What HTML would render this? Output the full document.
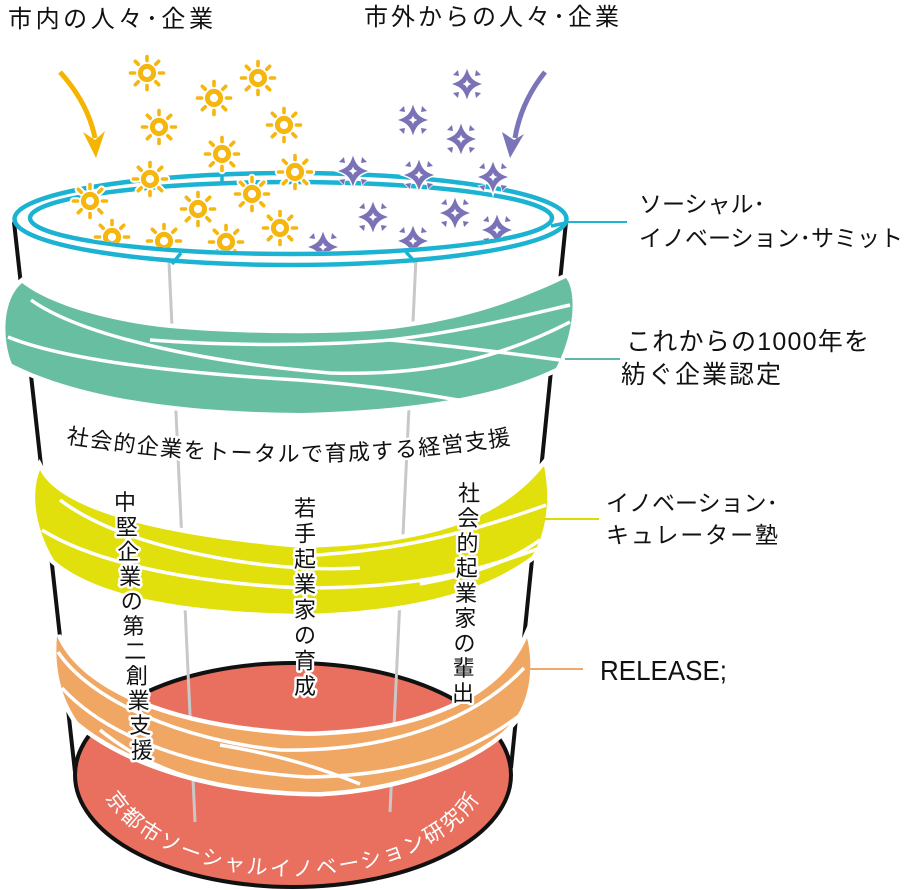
<!DOCTYPE html>
<html>
<head>
<meta charset="utf-8">
<style>
html,body{margin:0;padding:0;background:#fff;}
svg{display:block;}
</style>
</head>
<body>
<svg width="904" height="890" viewBox="0 0 904 890" xmlns="http://www.w3.org/2000/svg" font-family="'Liberation Sans','Noto Sans CJK JP',sans-serif">
<defs>
  <clipPath id="open">
    <rect x="0" y="0" width="904" height="218"/>
    <ellipse cx="291" cy="218" rx="258.5" ry="33.5"/>
  </clipPath>
  <g id="sunH" stroke="#fff" stroke-linecap="round">
    <circle r="7" fill="#fff" stroke-width="7"/>
    <path stroke-width="7.5" d="M0 -12.5V-16.5 M0 12.5V16.5 M-12.5 0H-16.5 M12.5 0H16.5 M8.8 8.8L11.7 11.7 M-8.8 8.8L-11.7 11.7 M8.8 -8.8L11.7 -11.7 M-8.8 -8.8L-11.7 -11.7"/>
  </g>
  <g id="sun">
    <circle r="6.6" fill="#fff" stroke="#f5b60f" stroke-width="5"/>
    <path stroke="#f5b60f" stroke-width="3.6" stroke-linecap="round" d="M0 -12.5V-16.5 M0 12.5V16.5 M-12.5 0H-16.5 M12.5 0H16.5 M8.8 8.8L11.7 11.7 M-8.8 8.8L-11.7 11.7 M8.8 -8.8L11.7 -11.7 M-8.8 -8.8L-11.7 -11.7"/>
  </g>
  <g id="star">
    <path d="M0 -15.5 C3 -6 6 -3 15 0 C6 3 3 6 0 15.5 C-3 6 -6 3 -15 0 C-6 -3 -3 -6 0 -15.5Z" fill="#7a72b6" stroke="#fff" stroke-width="3" paint-order="stroke"/>
    <path d="M0 -4.5 Q0.8 -0.8 4.5 0 Q0.8 0.8 0 4.5 Q-0.8 0.8 -4.5 0 Q-0.8 -0.8 0 -4.5Z" fill="#fff"/>
    <path d="M8 -8 L14 -9 L9 -14Z M-8 -8 L-14 -9 L-9 -14Z M8 8 L14 9 L9 14Z M-8 8 L-14 9 L-9 14Z" fill="#7a72b6" stroke="#fff" stroke-width="1.5" paint-order="stroke"/>
  </g>
  <path id="arcTxt" d="M66 443 Q292 480 518 443"/>
  <path id="redTxt" d="M95 760 A198 116 0 0 0 491 760"/>
</defs>

<rect width="904" height="890" fill="#fff"/>

<!-- bottom red ellipse -->
<ellipse cx="293" cy="775" rx="218" ry="112" fill="#e96f5f" stroke="#111" stroke-width="4"/>

<!-- cup sides -->
<line x1="14" y1="222" x2="75" y2="772" stroke="#111" stroke-width="4"/>
<line x1="566" y1="222" x2="511" y2="768" stroke="#111" stroke-width="4"/>

<!-- poles -->
<line x1="169" y1="262" x2="195" y2="822" stroke="#c8c8c8" stroke-width="3"/>
<line x1="416" y1="258" x2="390" y2="812" stroke="#c8c8c8" stroke-width="3"/>

<!-- rim -->
<ellipse cx="290.5" cy="219" rx="276" ry="46" fill="none" stroke="#1bb3d1" stroke-width="4.5"/>
<ellipse cx="291" cy="218" rx="261" ry="36" fill="none" stroke="#1bb3d1" stroke-width="4.5"/>
<g stroke="#1bb3d1" stroke-width="3.5">
  <line x1="181" y1="253" x2="172" y2="264"/>
  <line x1="406" y1="252" x2="415" y2="262"/>
  <line x1="222" y1="173" x2="222" y2="183"/>
  <line x1="551" y1="226" x2="566" y2="223"/>
</g>
<line x1="566" y1="222" x2="627" y2="222" stroke="#1db4cf" stroke-width="2"/>

<!-- teal band -->
<path d="M22 283 C50 305 110 322 170 328 C250 335 350 335 400 328 C470 318 520 300 566 278 C576 290 576 330 556 368 C500 395 420 410 300 413 C180 412 80 398 12 364 C2 340 2 300 22 283 Z" fill="#68bea0" stroke="#fff" stroke-width="9" paint-order="stroke"/>
<g fill="none" stroke="#fff" stroke-width="3.5">
  <path d="M31 300 C80 335 200 362 330 373 C430 376 500 358 570 322"/>
  <path d="M8 337 C60 358 160 372 298 380 C380 386 430 395 475 403"/>
  <path d="M150 340 C230 346 320 346 390 340 C460 332 515 318 570 305"/>
  <path d="M390 340 C445 345 500 352 560 360"/>
</g>
<line x1="565" y1="359" x2="620" y2="359" stroke="#5fb6ad" stroke-width="2"/>

<!-- yellow band -->
<path d="M40 470 C55 500 120 532 300 548 C430 545 500 520 544 466 C550 495 548 530 532 556 C480 595 400 612 300 614 C200 612 100 600 54 560 C36 530 30 495 40 470 Z" fill="#e1e00c" stroke="#fff" stroke-width="9" paint-order="stroke"/>
<g fill="none" stroke="#fff" stroke-width="3.5">
  <path d="M60 500 C100 530 160 548 230 560 C280 568 320 570 360 568"/>
  <path d="M42 530 C90 560 180 582 300 588 C400 588 460 578 540 548"/>
  <path d="M300 556 C380 552 450 540 546 505"/>
  <path d="M420 584 C470 575 510 562 540 540"/>
</g>
<line x1="543" y1="519" x2="599" y2="519" stroke="#dcdc00" stroke-width="2"/>

<!-- orange band -->
<path d="M57 636 C80 690 170 730 307 736 C420 734 500 700 527 638 C534 665 530 700 514 720 C480 760 400 788 320 792 C220 792 130 765 78 722 C62 700 54 670 57 636 Z" fill="#f1a764" stroke="#fff" stroke-width="9" paint-order="stroke"/>
<g fill="none" stroke="#fff" stroke-width="3.5">
  <path d="M58 652 C90 700 180 740 280 750 C380 752 470 725 524 668"/>
  <path d="M62 688 C110 740 200 770 307 777 C400 776 470 755 524 712"/>
  <path d="M220 745 C280 755 320 768 360 784"/>
  <path d="M100 730 C150 770 200 785 270 792"/>
</g>
<line x1="525" y1="669" x2="583" y2="669" stroke="#f0a868" stroke-width="2"/>

<!-- curved horizontal text -->
<text font-size="22" letter-spacing="1.6" fill="#111" stroke="#fff" stroke-width="5" paint-order="stroke" stroke-linejoin="round"><textPath href="#arcTxt">社会的企業をトータルで育成する経営支援</textPath></text>

<!-- vertical texts -->
<g font-size="22" fill="#111" text-anchor="middle" stroke="#fff" stroke-width="5" paint-order="stroke" stroke-linejoin="round">
  <text x="125" y="510">中</text>
  <text x="126.7" y="534.8">堅</text>
  <text x="128.4" y="559.6">企</text>
  <text x="130.1" y="584.4">業</text>
  <text x="131.8" y="609.2">の</text>
  <text x="133.5" y="634">第</text>
  <text x="135.2" y="658.8">二</text>
  <text x="136.9" y="683.6">創</text>
  <text x="138.6" y="708.4">業</text>
  <text x="140.3" y="733.2">支</text>
  <text x="142" y="758">援</text>

  <text x="305" y="516">若</text>
  <text x="305" y="541.4">手</text>
  <text x="305" y="566.8">起</text>
  <text x="305" y="592.2">業</text>
  <text x="305" y="617.6">家</text>
  <text x="305" y="643">の</text>
  <text x="305" y="668.4">育</text>
  <text x="305" y="693.8">成</text>

  <text x="469" y="501">社</text>
  <text x="468.3" y="526">会</text>
  <text x="467.5" y="551">的</text>
  <text x="466.8" y="576">起</text>
  <text x="466" y="601">業</text>
  <text x="465.3" y="626">家</text>
  <text x="464.5" y="651">の</text>
  <text x="463.8" y="676">輩</text>
  <text x="463" y="701">出</text>
</g>

<!-- red text -->
<text font-size="21" letter-spacing="2.5" fill="#fff" text-anchor="middle"><textPath href="#redTxt" startOffset="50%">京都市ソーシャルイノベーション研究所</textPath></text>

<!-- falling items -->
<g clip-path="url(#open)">
  <use href="#sunH" x="147" y="73"/><use href="#sun" x="147" y="73"/>
  <use href="#sunH" x="258" y="78"/><use href="#sun" x="258" y="78"/>
  <use href="#sunH" x="214" y="98"/><use href="#sun" x="214" y="98"/>
  <use href="#sunH" x="159" y="127"/><use href="#sun" x="159" y="127"/>
  <use href="#sunH" x="284" y="125"/><use href="#sun" x="284" y="125"/>
  <use href="#sunH" x="222" y="154"/><use href="#sun" x="222" y="154"/>
  <use href="#sunH" x="295" y="172"/><use href="#sun" x="295" y="172"/>
  <use href="#sunH" x="150" y="179"/><use href="#sun" x="150" y="179"/>
  <use href="#sunH" x="90" y="201"/><use href="#sun" x="90" y="201"/>
  <use href="#sunH" x="252" y="194"/><use href="#sun" x="252" y="194"/>
  <use href="#sunH" x="198" y="209"/><use href="#sun" x="198" y="209"/>
  <use href="#sunH" x="280" y="228"/><use href="#sun" x="280" y="228"/>
  <use href="#sunH" x="226" y="242"/><use href="#sun" x="226" y="242"/>
  <use href="#sunH" x="164" y="241"/><use href="#sun" x="164" y="241"/>
  <use href="#sunH" x="112" y="237"/><use href="#sun" x="112" y="237"/>

  <use href="#star" x="467" y="84"/>
  <use href="#star" x="413" y="120"/>
  <use href="#star" x="461" y="139"/>
  <use href="#star" x="353" y="171"/>
  <use href="#star" x="419" y="175"/>
  <use href="#star" x="493" y="177"/>
  <use href="#star" x="373" y="217"/>
  <use href="#star" x="455" y="213"/>
  <use href="#star" x="497" y="230"/>
  <use href="#star" x="323" y="247"/>
  <use href="#star" x="413" y="241"/>
</g>

<!-- arrows -->
<path d="M60 72 Q88 103 95 138" stroke="#f4b400" stroke-width="5" fill="none"/>
<path d="M96 158 L83 132 L95 140 L105 131 Z" fill="#f4b400"/>
<path d="M545 72 Q521 102 515 138" stroke="#7a74b8" stroke-width="5" fill="none"/>
<path d="M510 158 L502 132 L514 140 L524 134 Z" fill="#7a74b8"/>

<!-- labels -->
<g fill="#111">
  <text x="8" y="27" font-size="24" textLength="205">市内の人々･企業</text>
  <text x="364" y="25" font-size="24" textLength="255">市外からの人々･企業</text>

  <text x="639" y="212" font-size="23">ソーシャル･</text>
  <text x="639" y="246" font-size="23" textLength="264">イノベーション･サミット</text>
  <text x="626" y="350" font-size="25" textLength="243">これからの1000年を</text>
  <text x="621" y="383" font-size="25" textLength="160">紡ぐ企業認定</text>
  <text x="606" y="511" font-size="23">イノベーション･</text>
  <text x="606" y="543" font-size="23" textLength="172">キュレーター塾</text>
  <text x="600" y="680" font-size="28" textLength="127" lengthAdjust="spacingAndGlyphs" font-family="'Liberation Sans',sans-serif">RELEASE;</text>
</g>
</svg>
</body>
</html>
